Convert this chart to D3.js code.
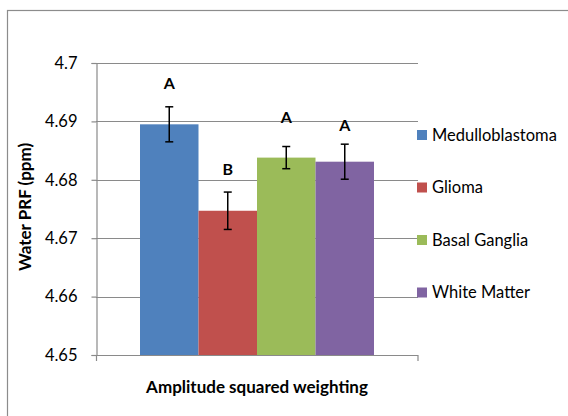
<!DOCTYPE html>
<html>
<head>
<meta charset="utf-8">
<script src="https://cdn.jsdelivr.net/npm/d3@7"></script>
<style>
  body { margin: 0; background: #fff; }
  text { font-family: Lato, "Open Sans", sans-serif; fill: #000; }
</style>
</head>
<body>
<svg id="chart" width="568" height="416"></svg>
<script>
const categories = ["Medulloblastoma", "Glioma", "Basal Ganglia", "White Matter"];
const values = [4.6895, 4.6747, 4.6838, 4.6831];
const errors = [0.003, 0.0032, 0.0019, 0.003];
const letters = ["A", "B", "A", "A"];
const letterValues = [4.6965, 4.6817, 4.6907, 4.6894];
const yTicks = [4.65, 4.66, 4.67, 4.68, 4.69, 4.7];
const colors = ["#4F81BD", "#C0504D", "#9BBB59", "#8064A2"];

const width = 568,
  height = 416;
const plot = { left: 96, right: 418, top: 63, bottom: 355 };
const fontSize = "16.5px";

const svg = d3.select("#chart");

// outer chart frame
svg
  .append("rect")
  .attr("x", 7.5)
  .attr("y", 10.5)
  .attr("width", width + 10)
  .attr("height", height + 10)
  .attr("fill", "none")
  .attr("stroke", "#8c8c8c")
  .attr("stroke-width", 1.2);

const y = d3.scaleLinear().domain([4.65, 4.7]).range([plot.bottom, plot.top]);

const x = d3
  .scaleBand()
  .domain(categories)
  .range([140, 374])
  .padding(0);

// gridlines
svg
  .selectAll(".grid")
  .data(yTicks.slice(1))
  .join("line")
  .attr("class", "grid")
  .attr("x1", plot.left)
  .attr("x2", plot.right)
  .attr("y1", (d) => Math.round(y(d)) + 0.5)
  .attr("y2", (d) => Math.round(y(d)) + 0.5)
  .attr("stroke", "#8a8a8a")
  .attr("stroke-width", 1.2);

// bars
svg
  .selectAll(".bar")
  .data(categories)
  .join("rect")
  .attr("class", "bar")
  .attr("x", (d) => x(d))
  .attr("width", x.bandwidth())
  .attr("y", (d, i) => y(values[i]))
  .attr("height", (d, i) => y(4.65) - y(values[i]))
  .attr("fill", (d, i) => colors[i]);

// y axis
const yAxis = svg
  .append("g")
  .attr("transform", `translate(${plot.left + 0.5},0)`)
  .call(
    d3
      .axisLeft(y)
      .tickValues(yTicks)
      .tickSize(5)
      .tickPadding(14)
      .tickFormat((d) => d3.format("")(+d.toFixed(2)))
  );
yAxis.select(".domain").attr("stroke", "#8a8a8a").attr("stroke-width", 1.2);
yAxis.selectAll(".tick line").attr("stroke", "#8a8a8a").attr("stroke-width", 1.2);
yAxis
  .selectAll(".tick text")
  .style("font-family", "Lato, 'Open Sans', sans-serif")
  .style("font-size", fontSize)
  .attr("fill", "#000");

// x axis line with end ticks
svg
  .append("path")
  .attr(
    "d",
    `M${plot.left + 0.5},${plot.bottom + 6}V${plot.bottom + 0.5}H${plot.right}V${plot.bottom + 6}`
  )
  .attr("fill", "none")
  .attr("stroke", "#8a8a8a")
  .attr("stroke-width", 1.2);

// error bars
const eb = svg
  .selectAll(".err")
  .data(categories)
  .join("g")
  .attr("class", "err")
  .attr("transform", (d) => `translate(${x(d) + x.bandwidth() / 2},0)`)
  .attr("stroke", "#000")
  .attr("stroke-width", 1.5);
eb.append("line")
  .attr("y1", (d, i) => y(values[i] + errors[i]))
  .attr("y2", (d, i) => y(values[i] - errors[i]));
eb.append("line")
  .attr("x1", -4)
  .attr("x2", 4)
  .attr("y1", (d, i) => y(values[i] + errors[i]))
  .attr("y2", (d, i) => y(values[i] + errors[i]));
eb.append("line")
  .attr("x1", -4)
  .attr("x2", 4)
  .attr("y1", (d, i) => y(values[i] - errors[i]))
  .attr("y2", (d, i) => y(values[i] - errors[i]));

// significance letters
svg
  .selectAll(".letter")
  .data(categories)
  .join("text")
  .attr("class", "letter")
  .attr("x", (d) => x(d) + x.bandwidth() / 2)
  .attr("y", (d, i) => y(letterValues[i]))
  .attr("dy", "0.35em")
  .attr("text-anchor", "middle")
  .style("font-size", "16px")
  .style("font-weight", "bold")
  .text((d, i) => letters[i]);

// axis titles
svg
  .append("text")
  .attr("transform", "translate(31,207) rotate(-90)")
  .attr("text-anchor", "middle")
  .style("font-size", "17px")
  .style("font-weight", "bold")
  .text("Water PRF (ppm)");

svg
  .append("text")
  .attr("x", 257)
  .attr("y", 387)
  .attr("dy", "0.35em")
  .attr("text-anchor", "middle")
  .style("font-size", "17px")
  .style("font-weight", "bold")
  .text("Amplitude squared weighting");

// legend
const legend = svg
  .selectAll(".legend")
  .data(categories)
  .join("g")
  .attr("class", "legend")
  .attr("transform", (d, i) => `translate(417,${135 + i * 52.5})`);
legend
  .append("rect")
  .attr("x", 0)
  .attr("y", -5)
  .attr("width", 10)
  .attr("height", 10)
  .attr("fill", (d, i) => colors[i]);
legend
  .append("text")
  .attr("x", 15)
  .attr("dy", "0.35em")
  .style("font-size", fontSize)
  .text((d) => d);
</script>
</body>
</html>
